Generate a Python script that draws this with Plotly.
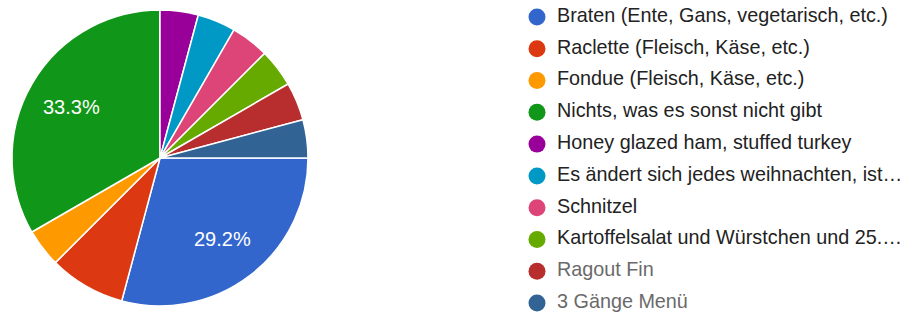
import math
import plotly.graph_objects as go

labels = [
    "Braten (Ente, Gans, vegetarisch, etc.)",
    "Raclette (Fleisch, Käse, etc.)",
    "Fondue (Fleisch, Käse, etc.)",
    "Nichts, was es sonst nicht gibt",
    "Honey glazed ham, stuffed turkey",
    "Es ändert sich jedes weihnachten, ist…",
    "Schnitzel",
    "Kartoffelsalat und Würstchen und 25.…",
    "Ragout Fin",
    "3 Gänge Menü",
]
values = [7, 2, 1, 8, 1, 1, 1, 1, 1, 1]
colors = ["#3366cc", "#dc3912", "#ff9900", "#109618", "#990099",
          "#0099c6", "#dd4477", "#66aa00", "#b82e2e", "#316395"]
label_colors = ["#222222"] * 8 + ["#6a6a6a", "#6a6a6a"]

W, H = 907, 316
FONT = "Liberation Sans, Arial, sans-serif"
px0, px1, py0, py1 = 12, 308, 10, 306
dom_x = [px0 / W, px1 / W]
dom_y = [(H - py1) / H, (H - py0) / H]
START = 90  # degrees clockwise from 12 o'clock

fig = go.Figure()
fig.add_trace(go.Pie(
    labels=labels, values=values, sort=False, direction="clockwise",
    rotation=START, marker=dict(colors=colors, line=dict(color="white", width=1.5)),
    textinfo="none", showlegend=False, hoverinfo="label+percent",
    domain=dict(x=dom_x, y=dom_y),
))

# percentage labels for the large slices, placed from the data's cumulative angles
total = sum(values)
cx = (px0 + px1) / 2
cy = (py0 + py1) / 2
r = (px1 - px0) / 2
cum = 0
for v in values:
    share = v / total
    if share > 0.2:
        mid = math.radians(START + (cum + v / 2) / total * 360)
        tx = cx + 0.69 * r * math.sin(mid)
        ty = cy - 0.69 * r * math.cos(mid)
        fig.add_annotation(x=tx / W, y=(H - ty) / H, xref="paper", yref="paper",
                           xanchor="center", yanchor="middle",
                           text=f"{share * 100:.1f}%", showarrow=False,
                           font=dict(color="white", size=20, family=FONT))
    cum += v

# legend drawn as a column of markers + labels on a hidden axis
idx = list(range(len(labels)))
fig.add_trace(go.Scatter(
    x=[0] * len(labels), y=idx, mode="markers", cliponaxis=False,
    marker=dict(symbol="circle", size=17, color=colors, line=dict(width=0)),
    hoverinfo="skip", showlegend=False,
))
fig.add_trace(go.Scatter(
    x=[20] * len(labels), y=idx, mode="text", text=labels, cliponaxis=False,
    textposition="middle right",
    textfont=dict(size=19.8, color=label_colors, family=FONT),
    hoverinfo="skip", showlegend=False,
))

ROW = 31.78      # px between legend rows
FIRST = 17       # px from top to first row
LEG_X0 = 537     # px of legend marker column
fig.update_layout(
    width=W, height=H, margin=dict(l=0, r=0, t=0, b=0),
    paper_bgcolor="white", plot_bgcolor="rgba(0,0,0,0)",
    showlegend=False,
    xaxis=dict(visible=False, domain=[LEG_X0 / W, 1], range=[0, W - LEG_X0],
               fixedrange=True),
    yaxis=dict(visible=False, domain=[0, 1],
               range=[(H - FIRST) / ROW, -FIRST / ROW], fixedrange=True),
)
fig.write_html("out.html", config={"displayModeBar": False},
               post_script="document.body.style.margin='0';")
